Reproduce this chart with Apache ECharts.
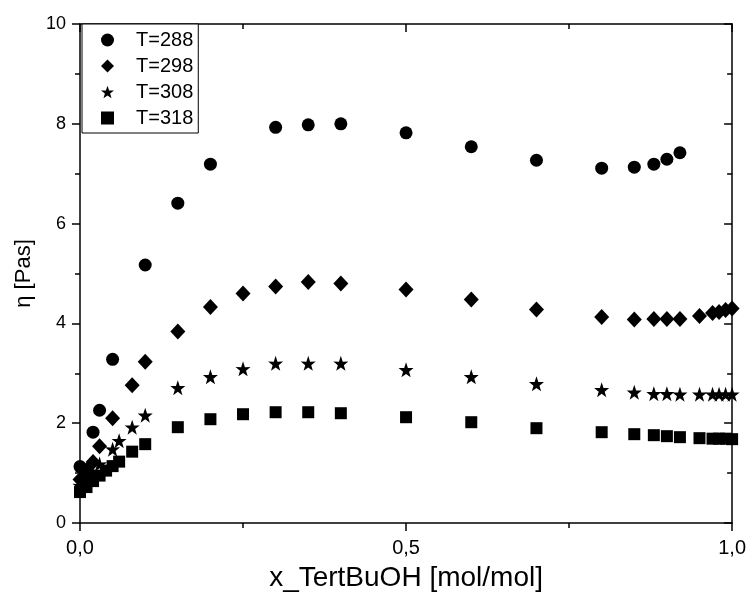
<!DOCTYPE html>
<html>
<head>
<meta charset="utf-8">
<script src="https://cdn.jsdelivr.net/npm/echarts@6/dist/echarts.min.js"></script>
<style>
html,body{margin:0;padding:0;background:#fff;}
#chart{width:749px;height:599px;}
</style>
</head>
<body>
<div id="chart"></div>
<script>
// x values (mol fraction) and viscosities for each temperature
var x288 = [0, 0.01, 0.02, 0.03, 0.05, 0.10, 0.15, 0.20, 0.30, 0.35, 0.40, 0.50, 0.60, 0.70, 0.80, 0.85, 0.88, 0.90, 0.92];
var y288 = [1.13, 1.07, 1.82, 2.26, 3.28, 5.17, 6.41, 7.19, 7.93, 7.98, 8.00, 7.82, 7.54, 7.27, 7.11, 7.13, 7.19, 7.29, 7.42];

var x298 = [0, 0.01, 0.02, 0.03, 0.05, 0.08, 0.10, 0.15, 0.20, 0.25, 0.30, 0.35, 0.40, 0.50, 0.60, 0.70, 0.80, 0.85, 0.88, 0.90, 0.92, 0.95, 0.97, 0.98, 0.99, 1.00];
var y298 = [0.87, 0.97, 1.22, 1.54, 2.10, 2.76, 3.23, 3.84, 4.33, 4.60, 4.74, 4.83, 4.80, 4.68, 4.48, 4.28, 4.13, 4.08, 4.09, 4.09, 4.09, 4.15, 4.21, 4.23, 4.27, 4.30];

var x308 = [0, 0.01, 0.02, 0.03, 0.05, 0.06, 0.08, 0.10, 0.15, 0.20, 0.25, 0.30, 0.35, 0.40, 0.50, 0.60, 0.70, 0.80, 0.85, 0.88, 0.90, 0.92, 0.95, 0.97, 0.98, 0.99, 1.00];
var y308 = [0.75, 0.85, 0.97, 1.18, 1.48, 1.65, 1.92, 2.16, 2.71, 2.93, 3.09, 3.20, 3.20, 3.20, 3.07, 2.93, 2.79, 2.67, 2.62, 2.59, 2.59, 2.58, 2.58, 2.58, 2.58, 2.58, 2.58];

var x318 = [0, 0.01, 0.02, 0.03, 0.04, 0.05, 0.06, 0.08, 0.10, 0.15, 0.20, 0.25, 0.30, 0.35, 0.40, 0.50, 0.60, 0.70, 0.80, 0.85, 0.88, 0.90, 0.92, 0.95, 0.97, 0.98, 0.99, 1.00];
var y318 = [0.62, 0.72, 0.84, 0.95, 1.05, 1.14, 1.23, 1.43, 1.58, 1.92, 2.08, 2.18, 2.22, 2.22, 2.20, 2.12, 2.02, 1.90, 1.82, 1.78, 1.76, 1.74, 1.72, 1.70, 1.69, 1.69, 1.69, 1.68];

var seriesNames = ['T=288', 'T=298', 'T=308', 'T=318'];
var xTickLabels = ['0,0', '0,5', '1,0'];

function pairs(xs, ys) { return xs.map(function (v, i) { return [v, ys[i]]; }); }

var starPath = 'path://M50,0 L61.8,35.1 L97.6,34.5 L69.1,56.9 L79.4,90.5 L50,70 L20.6,90.5 L30.9,56.9 L2.4,34.5 L38.2,35.1 Z';

var FONT = 'Arial, "Liberation Sans", sans-serif';
var chart = echarts.init(document.getElementById('chart'), null, {renderer: 'canvas'});

var axisLineStyle = {color: '#000', width: 1.5};
var tickStyle = {color: '#000', width: 1.5};
var mk = {color: '#000', opacity: 1};

chart.setOption({
  animation: false,
  backgroundColor: '#fff',
  textStyle: {fontFamily: FONT, color: '#000'},
  grid: {left: 80, right: 13, top: 24, bottom: 76, containLabel: false},
  legend: {
    left: 82, top: 24, orient: 'vertical',
    backgroundColor: '#fff', borderColor: '#000', borderWidth: 1, borderRadius: 0,
    padding: [6, 5, 5, 19],
    itemWidth: 13, itemHeight: 13, itemGap: 6,
    textStyle: {fontSize: 20, lineHeight: 19, fontFamily: FONT, color: '#000', padding: [0, 0, 0, 17]},
    data: seriesNames
  },
  xAxis: [{
    type: 'value', min: 0, max: 1, interval: 0.5, position: 'bottom',
    name: 'x_TertBuOH [mol/mol]', nameLocation: 'middle', nameGap: 41,
    nameTextStyle: {fontSize: 28, fontFamily: FONT, color: '#000'},
    axisLine: {show: true, onZero: false, lineStyle: axisLineStyle},
    axisTick: {show: true, inside: false, length: 8, lineStyle: tickStyle},
    minorTick: {show: true, splitNumber: 2, length: 5, lineStyle: tickStyle},
    splitLine: {show: false},
    axisLabel: {fontSize: 20, margin: 15, color: '#000', fontFamily: FONT,
      formatter: function (v) { return xTickLabels[Math.round(v * 2)]; }}
  }, {
    type: 'value', min: 0, max: 1, interval: 0.5, position: 'top',
    axisLine: {show: true, onZero: false, lineStyle: axisLineStyle},
    axisTick: {show: true, inside: true, length: 8, lineStyle: tickStyle},
    minorTick: {show: true, splitNumber: 2, length: 5, lineStyle: tickStyle},
    axisLabel: {show: false}, splitLine: {show: false}
  }],
  yAxis: [{
    type: 'value', min: 0, max: 10, interval: 2, position: 'left',
    name: 'η [Pas]', nameLocation: 'middle', nameGap: 36, nameRotate: 90,
    nameTextStyle: {fontSize: 22, fontFamily: FONT, color: '#000'},
    axisLine: {show: true, onZero: false, lineStyle: axisLineStyle},
    axisTick: {show: true, inside: false, length: 8, lineStyle: tickStyle},
    minorTick: {show: true, splitNumber: 2, length: 5, lineStyle: tickStyle},
    splitLine: {show: false},
    axisLabel: {fontSize: 18, margin: 14, color: '#000', fontFamily: FONT}
  }, {
    type: 'value', min: 0, max: 10, interval: 2, position: 'right',
    axisLine: {show: true, onZero: false, lineStyle: axisLineStyle},
    axisTick: {show: true, inside: true, length: 8, lineStyle: tickStyle},
    minorTick: {show: true, splitNumber: 2, length: 5, lineStyle: tickStyle},
    axisLabel: {show: false}, splitLine: {show: false}
  }],
  series: [
    {name: seriesNames[0], type: 'scatter', symbol: 'circle', symbolSize: 13,
     itemStyle: mk, data: pairs(x288, y288)},
    {name: seriesNames[1], type: 'scatter', symbol: 'diamond', symbolSize: [15, 16],
     itemStyle: mk, data: pairs(x298, y298)},
    {name: seriesNames[2], type: 'scatter', symbol: starPath, symbolSize: 15,
     itemStyle: mk, data: pairs(x308, y308)},
    {name: seriesNames[3], type: 'scatter', symbol: 'rect', symbolSize: 12,
     itemStyle: mk, data: pairs(x318, y318)}
  ]
});
</script>
</body>
</html>
